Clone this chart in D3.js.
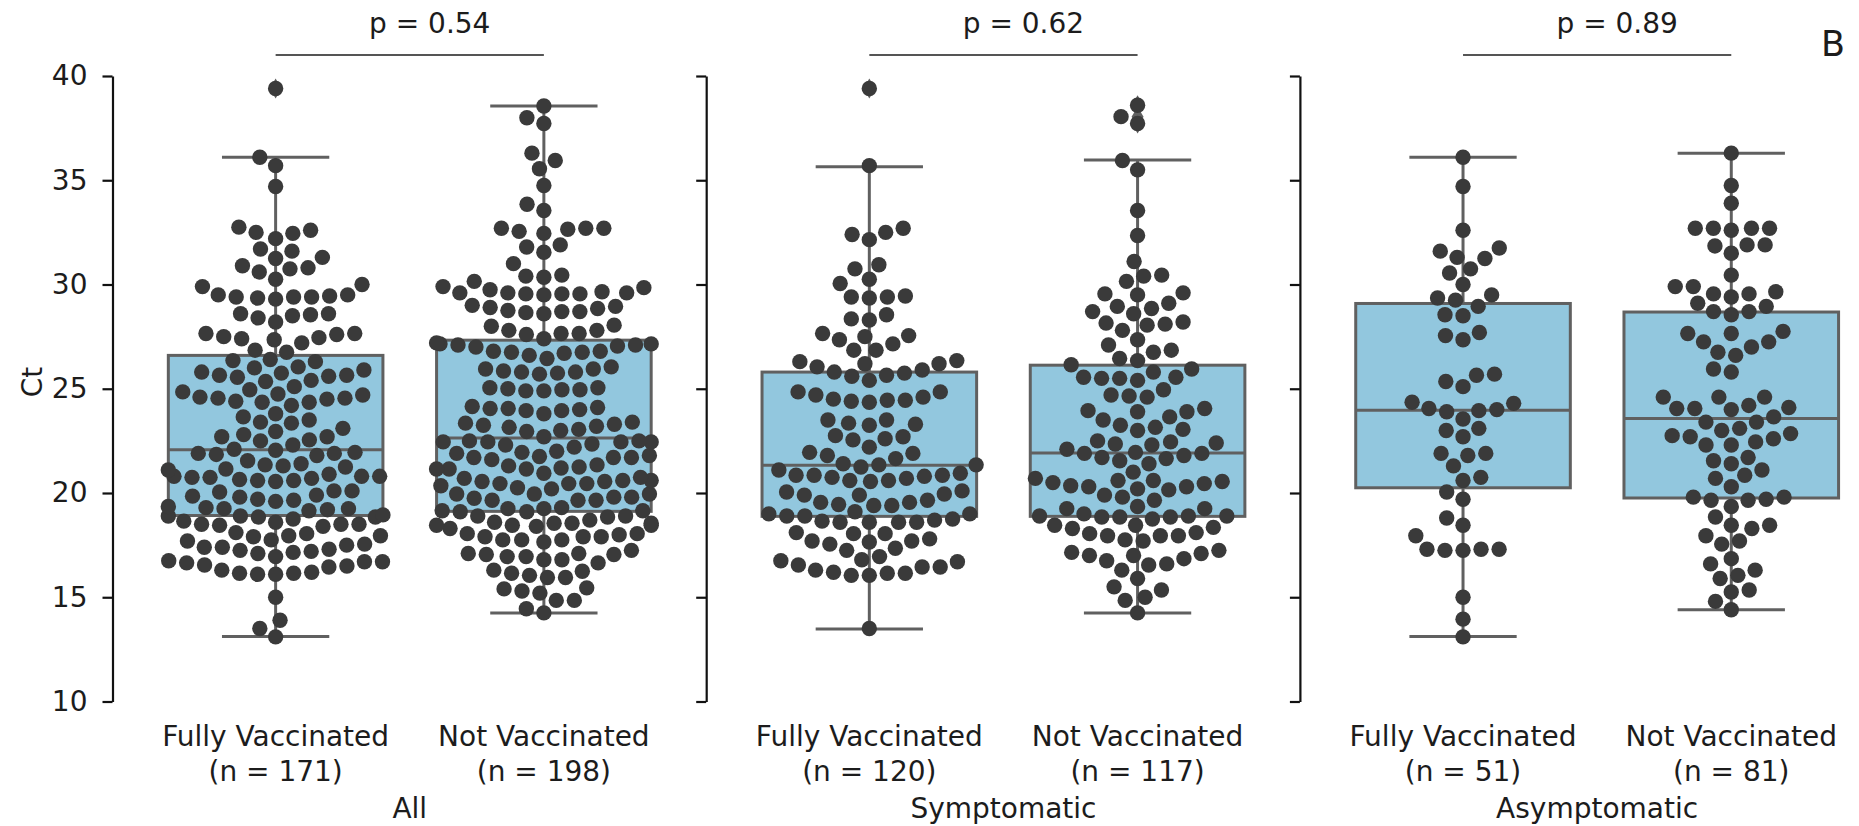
<!DOCTYPE html>
<html><head><meta charset="utf-8">
<script src="https://cdn.jsdelivr.net/npm/d3@7"></script>
<style>
body{margin:0;background:#fff}
text{font-family:"DejaVu Sans",sans-serif;fill:#1c1c1c}
</style>
</head><body>
<svg id="chart" width="1859" height="826"></svg>
<script>
// ---------------- DATA ----------------
const groups = ["All", "Symptomatic", "Asymptomatic"];
const categories = ["Fully Vaccinated", "Not Vaccinated"];
const counts = [[171, 198], [120, 117], [51, 81]];
const pValues = ["0.54", "0.62", "0.89"];
const yTicks = [10, 15, 20, 25, 30, 35, 40];
const yLabel = "Ct";
const panelTag = "B";

// box statistics per group: [Fully Vaccinated, Not Vaccinated]
const q1 = [[18.92, 19.12], [18.88, 18.88], [20.25, 19.76]];
const medians = [[22.08, 22.64], [21.33, 21.92], [23.97, 23.57]];
const q3 = [[26.6, 27.33], [25.8, 26.13], [29.09, 28.68]];
const whiskerLow = [[13.12, 14.24], [13.48, 14.24], [13.12, 14.4]];
const whiskerHigh = [[36.1, 38.56], [35.65, 35.97], [36.1, 36.3]];
const fliers = [[[39.4], []], [[39.4], [38.6, 38.05, 37.72]], [[], []]];

// individual Ct values (swarm)
const ctAllVacc = [39.4,
 36.1, 35.7, 34.7,
 32.6, 32.5, 32.2, 32.45, 32.75,
 31.6, 31.7, 31.25, 31.3, 30.9, 30.75, 30.8, 30.6, 30.25, 30.0, 29.9,
 29.5, 29.45, 29.4, 29.4, 29.35, 29.3, 29.4, 29.5,
 28.55, 28.5, 28.6, 28.4, 28.6, 28.2,
 27.65, 27.6, 27.2, 27.4, 27.35, 27.45, 27.5, 27.65,
 26.75, 26.85, 26.35, 26.3, 26.4,
 25.8, 25.65, 25.9, 25.55, 25.6, 26.05, 25.65, 25.75, 26.0,
 25.35, 25.1, 24.75, 25.4,
 24.6, 24.55, 24.35, 24.95, 24.5, 24.4, 24.7, 24.2, 24.35, 24.55, 24.85,
 23.65, 23.4, 23.8, 23.5, 23.35,
 22.95, 22.7, 22.55, 23.1, 22.7, 22.5, 22.8, 22.3,
 21.95, 21.8, 22.05, 21.9, 22.1, 21.85, 21.9,
 21.55, 21.35, 21.15, 21.1, 21.25, 21.3, 21.4,
 20.8, 20.8, 20.75, 20.7, 20.6, 20.55, 20.6, 20.65, 20.75, 20.8, 20.9,
 20.1, 20.05, 19.65, 19.9, 19.8, 19.7, 19.85, 20.1, 19.6,
 19.35, 19.25, 19.15, 19.2, 19.25, 19.3,
 18.9, 18.85, 18.75, 18.9, 18.85, 18.95,
 18.5, 18.45, 18.4, 18.6, 18.5, 18.65, 18.5,
 17.9, 17.7, 17.95, 18.1, 17.55, 17.95, 18.05, 17.75,
 17.3, 17.25, 17.15, 17.4, 17.5, 17.1, 16.95, 17.2, 17.4,
 16.7, 16.7, 16.75, 16.65,
 16.55, 16.3, 16.1, 16.15, 16.1, 16.15, 16.2, 16.45, 16.5,
 15.0, 13.9, 13.5, 13.1];

const ctAllUnvacc = [38.56, 38.0, 37.72,
 36.3, 35.95, 35.55, 34.75, 33.85, 33.55,
 32.7, 32.7, 32.45, 32.55, 32.7, 32.65,
 31.9, 31.8, 31.55, 31.0,
 30.45, 30.35, 30.15, 30.4, 29.9, 29.85,
 29.55, 29.6, 29.5, 29.55, 29.6, 29.6, 29.55, 29.75, 29.65,
 28.95, 28.75, 28.7, 28.6, 28.9, 28.65, 28.7, 28.85, 29.0,
 28.05, 27.8, 27.65, 27.65, 27.6, 27.4, 27.8, 28.0,
 27.15, 27.2, 27.15, 27.1, 27.1, 27.0, 27.05,
 26.75, 26.45, 26.6, 26.8, 26.8, 26.7, 26.75,
 25.95, 25.8, 25.75, 25.7, 25.95, 26.05, 25.8, 25.85,
 24.95, 25.0, 24.95, 24.9, 25.05, 25.05, 24.9,
 24.15, 24.05, 23.95, 24.0, 23.8, 23.95, 24.05, 24.1,
 23.4, 23.2, 23.0, 23.3, 23.35, 23.05, 22.95, 23.15, 23.25,
 22.7, 22.45, 22.3, 22.45, 22.35, 22.5, 22.45, 22.2, 22.45, 22.5,
 22.0, 21.8, 21.7, 21.6, 21.95, 21.9, 21.75, 21.7, 21.7,
 21.25, 21.15, 21.3, 20.95, 20.75, 21.2, 21.15, 21.15, 21.35,
 20.55, 20.45, 20.55, 20.2, 20.45, 20.6, 20.45, 20.6, 20.35, 20.25, 20.7,
 19.95, 19.65, 19.75, 19.95, 19.65, 19.8, 19.95, 19.8, 19.65,
 18.9, 18.85, 19.15, 19.25, 19.1, 19.1, 19.15, 19.25, 19.3, 18.9,
 18.55, 18.45, 18.6, 18.4, 18.45, 18.3, 18.55, 18.55, 18.45, 18.7,
 18.05, 18.0, 17.9, 17.75, 17.65, 17.9, 17.75, 17.75, 17.9, 18.05,
 17.25, 17.1, 16.8, 16.95, 16.95, 17.1, 16.8, 17.05, 16.65, 17.05,
 16.25, 16.05, 15.95, 16.15, 15.95, 16.3,
 15.4, 15.2, 15.3, 14.85, 14.85, 15.45,
 14.45, 14.25];

const ctSympVacc = [39.4, 35.7,
 32.7, 32.4, 32.15, 32.5,
 30.95, 30.75, 30.25, 30.05,
 29.4, 29.35, 29.4, 29.45,
 28.55, 28.3, 28.35,
 27.65, 27.55, 27.5, 27.15, 27.35, 26.85, 26.85,
 26.35, 26.2,
 26.3, 26.05, 25.8, 25.6, 25.4, 25.65, 25.75, 25.9, 26.2,
 24.85, 24.7, 24.5, 24.4, 24.35, 24.45, 24.45, 24.6, 24.85,
 23.35, 23.5, 23.25, 23.3, 23.5,
 22.75, 22.55, 22.6, 22.7,
 22.2, 21.9, 21.8, 21.95,
 21.65, 21.25, 21.35, 21.35, 21.4,
 21.1, 20.85, 20.8, 20.6, 20.75, 20.55, 20.85, 20.6, 20.7, 20.85, 20.95,
 19.9, 19.55, 19.4, 19.45, 20.1, 19.95, 19.9, 20.05, 19.4, 19.55, 19.65,
 18.9, 19.0, 18.6, 18.6, 18.6, 19.0, 18.65, 18.6, 18.7, 18.75, 18.9, 19.1,
 18.1, 17.8, 17.65, 17.55, 17.7, 18.05, 17.7, 18.05, 17.25,
 17.35, 16.95, 16.8, 16.75,
 16.55, 16.3, 16.15, 16.05, 16.05, 16.15, 16.2, 16.45, 16.45, 16.7,
 13.5];

const ctSympUnvacc = [38.6, 38.05, 37.72,
 35.95, 35.5, 33.55, 32.35, 31.1,
 30.4, 30.15, 30.45,
 29.5, 29.55, 29.6, 29.1, 28.95, 28.85, 28.7, 28.6,
 28.15, 28.05, 28.2, 27.8, 28.1,
 27.1, 27.35, 26.85, 26.75,
 26.45, 26.15, 26.35, 25.95, 25.8,
 25.55, 25.4, 25.5, 25.5, 25.55,
 24.7, 24.6, 24.65, 24.95,
 23.65, 23.9, 23.95, 23.9, 24.05,
 23.5, 23.25, 23.0, 23.05, 23.15,
 22.45, 22.3, 22.1, 22.35, 22.4, 22.5,
 21.95, 21.9, 21.65, 21.55, 21.4, 21.8, 21.7, 21.9,
 21.0,
 20.6, 20.55, 20.45, 20.3, 20.2, 20.15, 20.6, 19.9, 20.3, 20.35, 20.5, 20.7,
 19.65, 19.8, 19.35,
 19.25, 18.9, 18.85, 18.85, 19.25, 18.9, 18.9, 18.85, 19.0,
 18.45, 18.35, 18.45, 18.75, 18.05, 17.95, 17.7, 17.75, 17.95, 17.95, 18.1, 18.3,
 17.25, 17.0, 16.75, 16.85, 17.15, 16.6, 17.0, 17.1,
 16.3, 16.55, 15.9,
 15.35, 15.5, 14.85, 15.0,
 14.25];

const ctAsympVacc = [36.1, 34.7, 32.6,
 31.75, 31.6, 31.25, 31.3, 30.55, 30.75, 30.0,
 29.35, 29.25, 29.5, 28.95,
 28.55, 28.5,
 27.55, 27.35, 27.7,
 25.65, 25.7, 25.35, 25.1,
 24.35, 24.3,
 24.0, 23.95, 24.05, 23.9,
 23.55,
 23.0, 23.1, 22.7,
 21.9, 21.9, 21.8,
 21.3, 20.75, 20.6,
 20.05, 19.7,
 18.8, 18.45, 17.95,
 17.3, 17.25, 17.25, 17.3, 17.3,
 15.0, 13.95, 13.1];

const ctAsympUnvacc = [36.3, 34.75, 33.9,
 32.7, 32.7, 32.6, 32.7, 32.7,
 31.9, 31.85, 31.9, 31.5,
 30.45,
 29.65, 29.55, 29.4, 29.55, 29.9, 29.9,
 28.95, 28.7, 28.55, 28.7, 29.1,
 27.75, 27.65, 27.65, 27.25, 27.0, 26.6, 26.75, 27.25,
 25.95, 25.8,
 24.6, 24.6, 24.6, 24.05, 24.0, 24.05, 24.2, 24.1,
 23.4, 23.65, 23.4,
 22.7, 22.45, 22.85, 23.0, 23.1, 22.6, 22.75,
 22.3, 22.3, 21.7, 21.4, 21.55,
 20.7, 20.85, 21.1, 20.3,
 19.8, 19.7, 19.35, 19.65, 19.65, 19.8,
 18.85, 18.45, 18.3, 18.45, 17.95, 17.7, 17.55,
 16.85, 16.6, 16.05, 15.9, 16.3,
 15.25, 15.35, 14.8, 14.4];

const swarmData = [[ctAllVacc, ctAllUnvacc], [ctSympVacc, ctSympUnvacc], [ctAsympVacc, ctAsympUnvacc]];

// ---------------- LAYOUT / STYLE ----------------
const W = 1859, H = 826;
const panelLeft0 = 141.5, panelStep = 593.7, panelWidth = 536.5;
const spineOffset = 29;
const boxFill = "#92c7de", lineCol = "#606060", dotCol = "#3a3a3a";
const dotR = 7.7, collR = 8.6;
const fontSize = 28;

const svg = d3.select("#chart");
svg.append("rect").attr("width", W).attr("height", H).attr("fill", "#fff");

const y = d3.scaleLinear().domain([10, 40]).range([701.5, 76]);

function beeswarm(values, cx, halfWidth) {
  const pts = values.map((v, i) => ({ v, i, y: y(v) }))
    .sort((a, b) => a.v - b.v || a.i - b.i);
  const placed = [];
  const d2 = 4 * collR * collR;
  for (const p of pts) {
    const neighbors = placed.filter(q => Math.abs(q.y - p.y) < 2 * collR);
    const cands = [cx];
    let leftFirst = true;
    for (let k = neighbors.length - 1; k >= 0; k--) {
      const q = neighbors[k];
      const dy = p.y - q.y;
      const dx = Math.sqrt(Math.max(d2 - dy * dy, 0)) * 1.05;
      if (leftFirst) cands.push(q.x - dx, q.x + dx); else cands.push(q.x + dx, q.x - dx);
      leftFirst = !leftFirst;
    }
    const sorted = cands.map((x, i) => ({ x, i }))
      .sort((a, b) => (Math.abs(a.x - cx) - Math.abs(b.x - cx)) || (a.i - b.i));
    let chosen = cx;
    for (const c of sorted) {
      if (neighbors.every(q => (q.x - c.x) ** 2 + (q.y - p.y) ** 2 >= d2 - 1e-6)) { chosen = c.x; break; }
    }
    p.x = chosen;
    placed.push(p);
  }
  placed.forEach(p => { p.x = Math.max(cx - halfWidth, Math.min(cx + halfWidth, p.x)); });
  return placed;
}

groups.forEach((grp, g) => {
  const left = panelLeft0 + g * panelStep;
  const x = d3.scaleBand().domain(categories).range([left, left + panelWidth]).paddingInner(0).paddingOuter(0);
  const bw = x.bandwidth();
  const boxW = bw * 0.8;
  const layer = svg.append("g");

  // y axis spine
  const axis = d3.axisLeft(y).tickValues(yTicks).tickSize(10).tickSizeOuter(0).tickPadding(15)
    .tickFormat(g === 0 ? d3.format("d") : () => "");
  const ax = layer.append("g").attr("transform", `translate(${left - spineOffset},0)`).call(axis);
  ax.select(".domain").attr("stroke", "#111").attr("stroke-width", 2.2);
  ax.selectAll(".tick line").attr("stroke", "#111").attr("stroke-width", 2.2);
  ax.selectAll(".tick text").attr("font-size", fontSize).attr("font-family", "DejaVu Sans").attr("fill", "#1c1c1c");

  categories.forEach((cat, c) => {
    const cx = x(cat) + bw / 2;
    // whiskers
    layer.append("line").attr("x1", cx).attr("x2", cx).attr("y1", y(q3[g][c])).attr("y2", y(whiskerHigh[g][c]))
      .attr("stroke", lineCol).attr("stroke-width", 3);
    layer.append("line").attr("x1", cx).attr("x2", cx).attr("y1", y(q1[g][c])).attr("y2", y(whiskerLow[g][c]))
      .attr("stroke", lineCol).attr("stroke-width", 3);
    [whiskerHigh[g][c], whiskerLow[g][c]].forEach(v => {
      layer.append("line").attr("x1", cx - boxW / 4).attr("x2", cx + boxW / 4).attr("y1", y(v)).attr("y2", y(v))
        .attr("stroke", lineCol).attr("stroke-width", 3);
    });
    // box
    layer.append("rect").attr("x", cx - boxW / 2).attr("width", boxW)
      .attr("y", y(q3[g][c])).attr("height", y(q1[g][c]) - y(q3[g][c]))
      .attr("fill", boxFill).attr("stroke", lineCol).attr("stroke-width", 3);
    layer.append("line").attr("x1", cx - boxW / 2).attr("x2", cx + boxW / 2)
      .attr("y1", y(medians[g][c])).attr("y2", y(medians[g][c]))
      .attr("stroke", lineCol).attr("stroke-width", 3);
    // fliers (thin diamonds)
    fliers[g][c].forEach(v => {
      layer.append("path").attr("transform", `translate(${cx},${y(v)})`)
        .attr("d", "M0,-10L6,0L0,10L-6,0Z").attr("fill", lineCol);
    });
    // swarm
    const pts = beeswarm(swarmData[g][c], cx, boxW / 2);
    layer.append("g").selectAll("circle").data(pts).join("circle")
      .attr("cx", d => d.x).attr("cy", d => d.y).attr("r", dotR).attr("fill", dotCol);
    // x tick labels
    const t = layer.append("text").attr("x", cx).attr("y", 746).attr("text-anchor", "middle").attr("font-size", fontSize);
    t.append("tspan").attr("x", cx).text(cat);
    t.append("tspan").attr("x", cx).attr("dy", 34.5).text(`(n = ${counts[g][c]})`);
  });

  const c0 = x(categories[0]) + bw / 2, c1 = x(categories[1]) + bw / 2;
  // significance bar
  layer.append("line").attr("x1", c0).attr("x2", c1).attr("y1", 55).attr("y2", 55)
    .attr("stroke", "#555").attr("stroke-width", 2);
  layer.append("text").attr("x", (c0 + c1) / 2 + 20).attr("y", 33).attr("text-anchor", "middle")
    .attr("font-size", fontSize).text(`p = ${pValues[g]}`);
  // group label
  layer.append("text").attr("x", (c0 + c1) / 2).attr("y", 818).attr("text-anchor", "middle")
    .attr("font-size", fontSize).text(grp);
});

svg.append("text").attr("transform", "translate(42,382) rotate(-90)").attr("text-anchor", "middle")
  .attr("font-size", fontSize).text(yLabel);
svg.append("text").attr("x", 1821).attr("y", 56).attr("font-size", 35).text(panelTag);
</script>
</body></html>
